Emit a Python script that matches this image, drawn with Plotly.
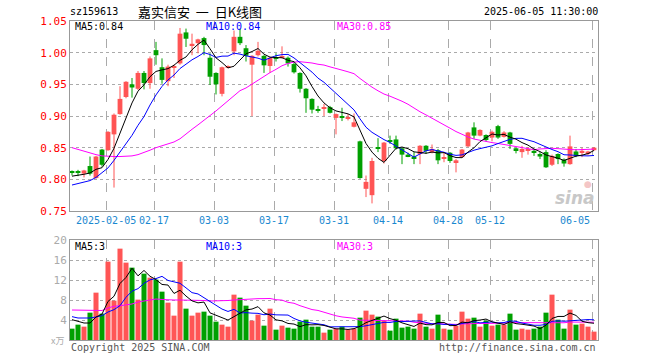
import plotly.graph_objects as go
import pandas as pd

# ---------------- data ----------------
holidays = ["2025-01-28", "2025-01-29", "2025-01-30", "2025-01-31", "2025-02-03",
            "2025-02-04", "2025-04-04", "2025-05-01", "2025-05-02", "2025-05-05",
            "2025-06-02"]
dates = [d.strftime("%Y-%m-%d") for d in pd.bdate_range("2025-01-20", "2025-06-05")
         if d.strftime("%Y-%m-%d") not in holidays]

tick_dates = ["2025-02-05", "2025-02-17", "2025-03-03", "2025-03-17", "2025-03-31",
              "2025-04-14", "2025-04-28", "2025-05-12", "2025-06-05"]
tick_text = ["2025-02-05", "02-17", "03-03", "03-17", "03-31", "04-14", "04-28",
             "05-12", "06-05"]

open_ = [0.811, 0.811, 0.809, 0.821, 0.802, 0.847, 0.846, 0.871, 0.903, 0.930,
         0.950, 0.943, 0.968, 0.952, 1.004, 0.977, 0.955, 0.977, 0.983, 1.032,
         1.012, 1.015, 1.023, 0.992, 0.968, 0.935, 0.976, 1.002, 1.025, 1.007,
         0.981, 0.996, 0.995, 0.979, 0.992, 0.992, 0.992, 0.982, 0.968, 0.943,
         0.927, 0.910, 0.912, 0.914, 0.897, 0.898, 0.896, 0.883, 0.860, 0.785,
         0.775, 0.850, 0.829, 0.862, 0.863, 0.849, 0.839, 0.836, 0.840, 0.853,
         0.843, 0.846, 0.833, 0.842, 0.827, 0.835, 0.852, 0.882, 0.869, 0.870,
         0.866, 0.884, 0.867, 0.874, 0.849, 0.843, 0.845, 0.845, 0.840, 0.843,
         0.823, 0.840, 0.831, 0.824, 0.844, 0.843, 0.840, 0.846]
high = [0.814, 0.815, 0.815, 0.836, 0.837, 0.848, 0.876, 0.904, 0.947, 0.955,
        0.960, 0.971, 0.971, 0.994, 1.017, 0.991, 0.981, 0.981, 1.039, 1.038,
        1.030, 1.022, 1.025, 0.999, 0.969, 0.978, 0.980, 1.035, 1.038, 1.012,
        0.996, 1.017, 0.996, 0.993, 0.999, 1.010, 0.994, 0.986, 0.969, 0.944,
        0.928, 0.916, 0.919, 0.916, 0.904, 0.913, 0.903, 0.904, 0.861, 0.806,
        0.834, 0.865, 0.859, 0.869, 0.869, 0.850, 0.842, 0.843, 0.854, 0.854,
        0.855, 0.848, 0.842, 0.843, 0.832, 0.848, 0.875, 0.890, 0.879, 0.871,
        0.877, 0.886, 0.876, 0.875, 0.850, 0.853, 0.851, 0.848, 0.843, 0.846,
        0.839, 0.841, 0.833, 0.869, 0.848, 0.850, 0.845, 0.851]
low = [0.806, 0.805, 0.803, 0.806, 0.801, 0.820, 0.845, 0.787, 0.902, 0.928,
       0.929, 0.941, 0.942, 0.943, 0.981, 0.951, 0.947, 0.960, 0.981, 1.009,
       0.996, 0.999, 0.996, 0.949, 0.934, 0.931, 0.975, 0.996, 1.012, 0.986,
       0.900, 0.994, 0.968, 0.968, 0.986, 0.991, 0.978, 0.967, 0.937, 0.905,
       0.904, 0.905, 0.900, 0.904, 0.871, 0.892, 0.893, 0.882, 0.801, 0.772,
       0.762, 0.843, 0.825, 0.856, 0.847, 0.824, 0.835, 0.824, 0.824, 0.840,
       0.841, 0.824, 0.827, 0.826, 0.811, 0.834, 0.851, 0.864, 0.868, 0.860,
       0.860, 0.864, 0.866, 0.848, 0.841, 0.834, 0.839, 0.837, 0.832, 0.818,
       0.821, 0.824, 0.820, 0.823, 0.835, 0.835, 0.838, 0.845]
close = [0.810, 0.810, 0.814, 0.809, 0.836, 0.823, 0.875, 0.902, 0.927, 0.954,
         0.945, 0.968, 0.952, 0.991, 0.996, 0.957, 0.978, 0.979, 1.030, 1.022,
         1.014, 1.021, 1.012, 0.962, 0.950, 0.977, 0.979, 1.025, 1.015, 0.995,
         0.995, 1.003, 0.980, 0.992, 0.991, 0.994, 0.983, 0.969, 0.943, 0.928,
         0.910, 0.908, 0.914, 0.905, 0.903, 0.897, 0.898, 0.890, 0.802, 0.796,
         0.829, 0.849, 0.858, 0.860, 0.849, 0.839, 0.836, 0.833, 0.853, 0.845,
         0.848, 0.830, 0.835, 0.829, 0.830, 0.847, 0.874, 0.869, 0.878, 0.862,
         0.875, 0.866, 0.874, 0.856, 0.846, 0.848, 0.846, 0.843, 0.836, 0.819,
         0.837, 0.832, 0.825, 0.852, 0.837, 0.845, 0.844, 0.850]
volume = [2.27, 3.07, 2.67, 5.47, 9.47, 5.27, 15.67, 7.87, 18.27, 15.47,
          14.47, 8.07, 13.27, 12.47, 12.07, 9.67, 7.47, 4.87, 15.67, 6.27,
          4.87, 5.47, 5.67, 4.87, 3.67, 3.07, 2.67, 9.07, 8.47, 6.87,
          3.87, 5.07, 2.87, 6.27, 2.07, 2.87, 2.47, 2.27, 3.67, 4.07,
          2.67, 2.67, 1.47, 2.07, 2.27, 2.67, 2.07, 2.27, 4.47, 5.87,
          5.07, 4.67, 3.87, 1.87, 4.27, 2.47, 2.67, 2.27, 5.27, 2.67,
          2.27, 5.07, 2.27, 2.07, 2.87, 5.67, 4.27, 4.47, 2.67, 3.87,
          2.87, 3.07, 3.07, 5.27, 2.07, 2.27, 2.07, 2.27, 2.67, 5.47,
          9.07, 4.07, 2.27, 6.07, 3.07, 3.27, 2.67, 1.67]

# moving-average values at the left edge (history before first bar)
ma5_head = [0.805, 0.806, 0.808, 0.810]
ma10_head = [0.791, 0.793, 0.795, 0.798, 0.803, 0.810, 0.818, 0.830, 0.843]
ma30_head = [0.850, 0.847, 0.845, 0.842, 0.839, 0.837, 0.836, 0.836, 0.836, 0.836,
             0.837, 0.839, 0.842, 0.846, 0.850, 0.853, 0.856, 0.859, 0.864, 0.872,
             0.879, 0.886, 0.893, 0.900, 0.908, 0.916, 0.924, 0.932, 0.940]
vma5_head = [4.07, 3.67, 3.40, 3.40]
vma10_head = [4.67, 4.40, 4.40, 4.40, 4.60, 4.87, 5.60, 6.07, 6.87]
vma30_head = [6.0, 5.95, 5.9, 5.85, 5.8, 5.9, 6.4, 6.75, 6.85, 7.0,
              7.2, 7.6, 7.8, 8.0, 8.2, 8.1, 8.0, 8.0, 8.0, 8.0,
              8.0, 8.0, 7.9, 7.8, 7.8, 7.8, 7.9, 8.0, 8.1]

ma_labels = ["MA5:0.84", "MA10:0.84", "MA30:0.85"]
vma_labels = ["MA5:3", "MA10:3", "MA30:3"]


def moving(vals, n, head):
    out = []
    for i in range(len(vals)):
        if i < n - 1:
            out.append(head[i])
        else:
            out.append(sum(vals[i - n + 1:i + 1]) / n)
    return out


# ---------------- styling ----------------
RED = "#ff5555"
GREEN = "#00a000"
GRID = "#aaaaaa"
BORDER = "#999999"
MONO = "DejaVu Sans Mono"

W, H = 660, 360
L, R, T, B = 70, 598, 21, 340


def px(x, y):
    return (x - L) / (R - L), (B - y) / (B - T)


n = len(close)
idx = list(range(n))
up = [c >= o for o, c in zip(open_, close)]
colors = [RED if u else GREEN for u in up]

fig = go.Figure()

# wicks
for col, flag in ((RED, True), (GREEN, False)):
    xs, ys = [], []
    for i in idx:
        if up[i] == flag:
            xs += [i, i, None]
            ys += [low[i], high[i], None]
    fig.add_trace(go.Scatter(x=xs, y=ys, mode="lines", line=dict(color=col, width=1),
                             xaxis="x", yaxis="y", hoverinfo="skip", showlegend=False))

# bodies
bases = [min(o, c) for o, c in zip(open_, close)]
heights = [max(abs(c - o), 0.0017) for o, c in zip(open_, close)]
fig.add_trace(go.Bar(x=idx, y=heights, base=bases, width=0.8,
                     marker=dict(color=colors, line=dict(width=0)),
                     xaxis="x", yaxis="y", showlegend=False))

# price MAs
for vals, col in ((moving(close, 30, ma30_head), "#ff00ff"),
                  (moving(close, 10, ma10_head), "#0000ff"),
                  (moving(close, 5, ma5_head), "#000000")):
    fig.add_trace(go.Scatter(x=idx, y=vals, mode="lines", line=dict(color=col, width=1),
                             xaxis="x", yaxis="y", showlegend=False))

# volume
fig.add_trace(go.Bar(x=idx, y=volume, width=0.84,
                     marker=dict(color=colors, line=dict(width=0)),
                     xaxis="x2", yaxis="y2", showlegend=False))
for vals, col in ((moving(volume, 30, vma30_head), "#ff00ff"),
                  (moving(volume, 10, vma10_head), "#0000ff"),
                  (moving(volume, 5, vma5_head), "#000000")):
    fig.add_trace(go.Scatter(x=idx, y=vals, mode="lines", line=dict(color=col, width=1),
                             xaxis="x2", yaxis="y2", showlegend=False))

tick_pos = [dates.index(d) - 0.33 for d in tick_dates]
xr = [-1 / 3, n - 1 / 3]

price_ticks = [0.75, 0.80, 0.85, 0.90, 0.95, 1.00, 1.05]
vol_ticks = [4, 8, 12, 16, 20]

p_bottom = (B - 211) / (B - T)
v_top = (B - 240) / (B - T)

axis_common = dict(showline=True, mirror=True, linecolor=BORDER, linewidth=1,
                   zeroline=False, ticks="", fixedrange=True)

fig.update_layout(
    width=W, height=H,
    margin=dict(l=L, r=W - R, t=T, b=H - B, autoexpand=False),
    paper_bgcolor="white", plot_bgcolor="white",
    barmode="overlay", showlegend=False,
    xaxis=dict(domain=[0, 1], anchor="y", range=xr, tickmode="array",
               tickvals=tick_pos, showticklabels=False,
               showgrid=True, gridcolor=GRID, griddash="dash", gridwidth=1,
               **axis_common),
    xaxis2=dict(domain=[0, 1], anchor="y2", range=xr, tickmode="array",
                tickvals=tick_pos, showticklabels=False,
                showgrid=True, gridcolor=GRID, griddash="dash", gridwidth=1,
                **axis_common),
    yaxis=dict(domain=[p_bottom, 1], anchor="x", range=[0.75, 1.05], tickmode="array",
               tickvals=price_ticks, ticktext=["%.2f" % v for v in price_ticks],
               tickfont=dict(family=MONO, size=11, color="#ff0000"),
               showgrid=True, gridcolor=GRID, griddash="dot", gridwidth=1,
               **axis_common),
    yaxis2=dict(domain=[0, v_top], anchor="x2", range=[0, 20], tickmode="array",
                tickvals=vol_ticks, ticktext=[str(v) for v in vol_ticks],
                tickfont=dict(family=MONO, size=11, color="#aaaaaa"),
                showgrid=True, gridcolor=GRID, griddash="dot", gridwidth=1,
                **axis_common),
)


def text(x, y, s, color="#000000", size=10, family=MONO, xanchor="left"):
    xp, yp = px(x, y)
    fig.add_annotation(x=xp, y=yp, xref="paper", yref="paper", text=s, showarrow=False,
                       xanchor=xanchor, yanchor="middle",
                       font=dict(family=family, size=size, color=color))


# date labels (centred on the dashed lines, last one kept inside the frame)
for d, lab in zip(tick_dates, tick_text):
    xpos = dates.index(d) - 0.33
    xp = (xpos - xr[0]) / (xr[1] - xr[0])
    last = d == tick_dates[-1]
    fig.add_annotation(x=xp, y=px(0, 221)[1], xref="paper", yref="paper", text=lab,
                       showarrow=False, xanchor="right" if last else "center",
                       yanchor="middle",
                       font=dict(family=MONO, size=10, color="#1a88d0"))

text(68, 12, "sz159613", size=10)
text(136, 12, "嘉实信安&nbsp;&nbsp;一&nbsp;&nbsp;日K线图", size=13,
     family="Noto Sans CJK SC")
text(600, 12, "2025-06-05 11:30:00", size=10, xanchor="right")

ma_cols = ["#000000", "#0000ff", "#ff00ff"]
ma_x = [73, 204, 335]
for s, c, x in zip(ma_labels, ma_cols, ma_x):
    text(x, 27, s, color=c)
for s, c, x in zip(vma_labels, ma_cols, ma_x):
    text(x, 247, s, color=c)

text(66, 340, "x万", color="#aaaaaa", size=9, family="Noto Sans CJK SC", xanchor="right")
text(69, 347, "Copyright 2025 SINA.COM", color="#555555")
text(598, 347, "http://finance.sina.com.cn", color="#555555", xanchor="right")
text(597, 198, "<b><i>sina</i></b>", color="#c8c8c8", size=17, family="DejaVu Sans",
     xanchor="right")
text(582, 184, "●", color="#f4c6c6", size=9, family="DejaVu Sans")

fig.write_html("out.html", config={"displayModeBar": False},
               post_script="document.body.style.margin='0';")
